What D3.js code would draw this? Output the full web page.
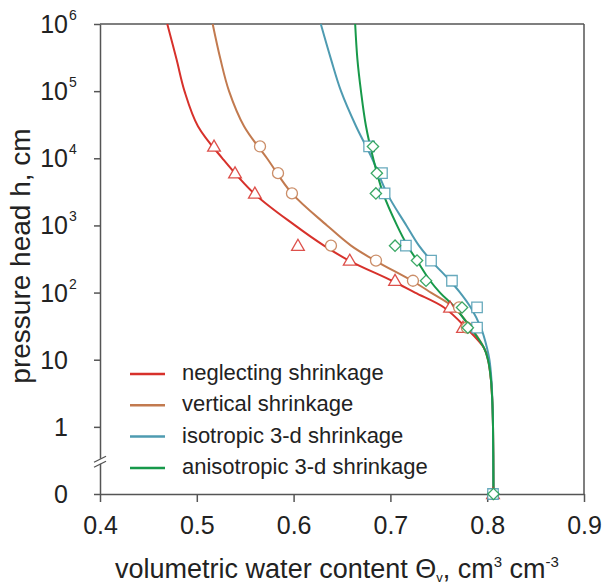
<!DOCTYPE html>
<html>
<head>
<meta charset="utf-8">
<script src="https://cdn.jsdelivr.net/npm/d3@7"></script>
<style>
  body { margin: 0; background: #fff; }
  text { font-family: "Liberation Sans", Arial, sans-serif; fill: #222; }
</style>
</head>
<body>
<div id="chart"></div>
<script>
// pressure heads (cm) where the fitted curves were read, 0 sits below the axis break
var hCurve = [1e6, 3e5, 1e5, 3e4, 1e4, 3e3, 1e3, 500, 300, 150, 100, 60, 30, 15, 10, 5, 2, 1, 0];
var neglectCurve   = [0.4695, 0.479, 0.4873, 0.5012, 0.5264, 0.5591, 0.6015, 0.6314, 0.6572, 0.7017, 0.7254, 0.7554, 0.7781, 0.7967, 0.8008, 0.8039, 0.8055, 0.806, 0.8065];
var verticalCurve  = [0.5164, 0.5244, 0.5333, 0.5488, 0.5725, 0.5983, 0.6345, 0.6593, 0.6841, 0.7223, 0.7419, 0.7657, 0.7833, 0.7967, 0.8013, 0.8039, 0.8055, 0.806, 0.8065];
var isotropicCurve = [0.6281, 0.6386, 0.649, 0.6645, 0.681, 0.6965, 0.7165, 0.7295, 0.742, 0.7616, 0.772, 0.783, 0.7935, 0.7998, 0.8023, 0.8044, 0.8055, 0.806, 0.8065];
var anisoCurve     = [0.6636, 0.6659, 0.6696, 0.6748, 0.6822, 0.6925, 0.7068, 0.7176, 0.7275, 0.741, 0.7512, 0.7667, 0.7827, 0.7967, 0.8008, 0.8039, 0.8055, 0.806, 0.8065];

// measured points
var hObs = [15000, 6000, 3000, 500, 300, 150, 60, 30, 0];
var neglectObs   = [0.5178, 0.5395, 0.560, 0.6045, 0.658, 0.7048, 0.7616, 0.775, 0.806];
var verticalObs  = [0.5653, 0.5839, 0.5983, 0.6386, 0.6851, 0.7233, 0.771, 0.779, 0.806];
var isotropicObs = [0.678, 0.6913, 0.694, 0.716, 0.742, 0.7636, 0.7895, 0.7895, 0.806];
var anisoObs     = [0.682, 0.686, 0.685, 0.7048, 0.7275, 0.7368, 0.774, 0.780, 0.8065];

var seriesNames = ['neglecting shrinkage', 'vertical shrinkage', 'isotropic 3-d shrinkage', 'anisotropic 3-d shrinkage'];
var seriesColors = ['#d7312b', '#c27a4f', '#4e9bb1', '#17994a'];
var seriesSymbols = ['triangle', 'circle', 'square', 'diamond'];

var xTicks = [0.4, 0.5, 0.6, 0.7, 0.8, 0.9];
var yTicks = [0.1, 1, 10, 1e2, 1e3, 1e4, 1e5, 1e6];
var yTickBase = ['0', '1', '10', '10', '10', '10', '10', '10'];
var yTickSup  = ['', '', '', '2', '3', '4', '5', '6'];

var width = 604, height = 585;
var pLeft = 100, pRight = 584, pTop = 24, pBottom = 494;

var svg = d3.select('#chart').append('svg')
    .attr('width', width)
    .attr('height', height);

var x = d3.scaleLinear().domain([0.4, 0.9]).range([pLeft, pRight]);
var y = d3.scaleLog().domain([0.1, 1e6]).range([pBottom, pTop]);
function hy(h) { return y(h === 0 ? 0.1 : h); }

var axisColor = '#555';

// box top and right
svg.append('line')
    .attr('x1', pLeft).attr('x2', pRight).attr('y1', pTop).attr('y2', pTop)
    .attr('stroke', axisColor).attr('stroke-width', 1.5);
svg.append('line')
    .attr('x1', pRight).attr('x2', pRight).attr('y1', pTop).attr('y2', pBottom)
    .attr('stroke', axisColor).attr('stroke-width', 1.5);

// x axis
var xAxis = svg.append('g')
    .attr('transform', 'translate(0,' + pBottom + ')')
    .call(d3.axisBottom(x).tickValues(xTicks).tickSize(8).tickSizeOuter(0).tickPadding(14).tickFormat(d3.format('.1f')));
xAxis.selectAll('path, line').attr('stroke', axisColor).attr('stroke-width', 1.5);
xAxis.selectAll('text')
    .style('font-size', '25px')
    .style('font-family', '"Liberation Sans", Arial, sans-serif')
    .attr('fill', '#222');

// y axis
var yAxis = svg.append('g')
    .attr('transform', 'translate(' + pLeft + ',0)')
    .call(d3.axisLeft(y).tickValues(yTicks).tickSize(6).tickSizeOuter(0).tickFormat(''));
yAxis.selectAll('path, line').attr('stroke', axisColor).attr('stroke-width', 1.5);

yTicks.forEach(function(v, i) {
    svg.append('text')
        .attr('x', 68)
        .attr('y', y(v))
        .attr('dy', '0.36em')
        .attr('text-anchor', 'end')
        .style('font-size', '25px')
        .text(yTickBase[i]);
    if (yTickSup[i]) {
        svg.append('text')
            .attr('x', 69)
            .attr('y', y(v) - 4)
            .style('font-size', '14px')
            .text(yTickSup[i]);
    }
});

// axis break
var by = y(Math.pow(10, -0.52));
svg.append('rect')
    .attr('x', pLeft - 2).attr('y', by - 3).attr('width', 4).attr('height', 5)
    .attr('fill', '#fff');
[-2.5, 2.5].forEach(function(o) {
    svg.append('line')
        .attr('x1', pLeft - 6).attr('y1', by + o + 3)
        .attr('x2', pLeft + 6).attr('y2', by + o - 3)
        .attr('stroke', axisColor).attr('stroke-width', 1.3);
});

// curves
var curves = [neglectCurve, verticalCurve, isotropicCurve, anisoCurve];
var obs = [neglectObs, verticalObs, isotropicObs, anisoObs];

var line = d3.line()
    .x(function(d) { return x(d[1]); })
    .y(function(d) { return hy(d[0]); })
    .curve(d3.curveCatmullRom.alpha(0.5));

curves.forEach(function(c, i) {
    svg.append('path')
        .datum(hCurve.map(function(h, j) { return [h, c[j]]; }))
        .attr('d', line)
        .attr('fill', 'none')
        .attr('stroke', seriesColors[i])
        .attr('stroke-width', 2);
});

// markers
var symbolTypes = {
    triangle: d3.symbolTriangle,
    circle: d3.symbolCircle,
    square: d3.symbolSquare,
    diamond: d3.symbolSquare
};
var symbolSizes = { triangle: 70, circle: 95, square: 110, diamond: 64 };

obs.forEach(function(o, i) {
    var s = seriesSymbols[i];
    var sym = d3.symbol().type(symbolTypes[s]).size(symbolSizes[s]);
    svg.append('g').selectAll('path')
        .data(hObs.map(function(h, j) { return [h, o[j]]; }))
        .enter()
        .append('path')
        .attr('d', sym)
        .attr('transform', function(d) {
            var t = 'translate(' + x(d[1]) + ',' + hy(d[0]) + ')';
            if (s === 'diamond') t += ' rotate(45)';
            if (s === 'triangle') t += ' translate(0,1)';
            return t;
        })
        .attr('fill', '#fff')
        .attr('stroke', seriesColors[i])
        .attr('stroke-opacity', 0.85)
        .attr('stroke-width', 1.3);
});

// legend
var legend = svg.append('g');
seriesNames.forEach(function(n, i) {
    var ly = 374 + i * 31.3;
    legend.append('line')
        .attr('x1', 130).attr('x2', 165).attr('y1', ly).attr('y2', ly)
        .attr('stroke', seriesColors[i]).attr('stroke-width', 2.5);
    legend.append('text')
        .attr('x', 182).attr('y', ly + 6)
        .style('font-size', '22px')
        .text(n);
});

// axis titles
svg.append('text')
    .attr('transform', 'translate(30,256) rotate(-90)')
    .attr('text-anchor', 'middle')
    .style('font-size', '28px')
    .text('pressure head h, cm');

var xt = svg.append('text')
    .attr('x', 337).attr('y', 578)
    .attr('text-anchor', 'middle')
    .style('font-size', '27px');
xt.append('tspan').text('volumetric water content \u0398');
xt.append('tspan').attr('dy', 4).style('font-size', '13px').text('v');
xt.append('tspan').attr('dy', -4).text(', cm');
xt.append('tspan').attr('dy', -11).style('font-size', '15px').text('3');
xt.append('tspan').attr('dy', 11).text(' cm');
xt.append('tspan').attr('dy', -11).style('font-size', '15px').text('-3');
</script>
</body>
</html>
